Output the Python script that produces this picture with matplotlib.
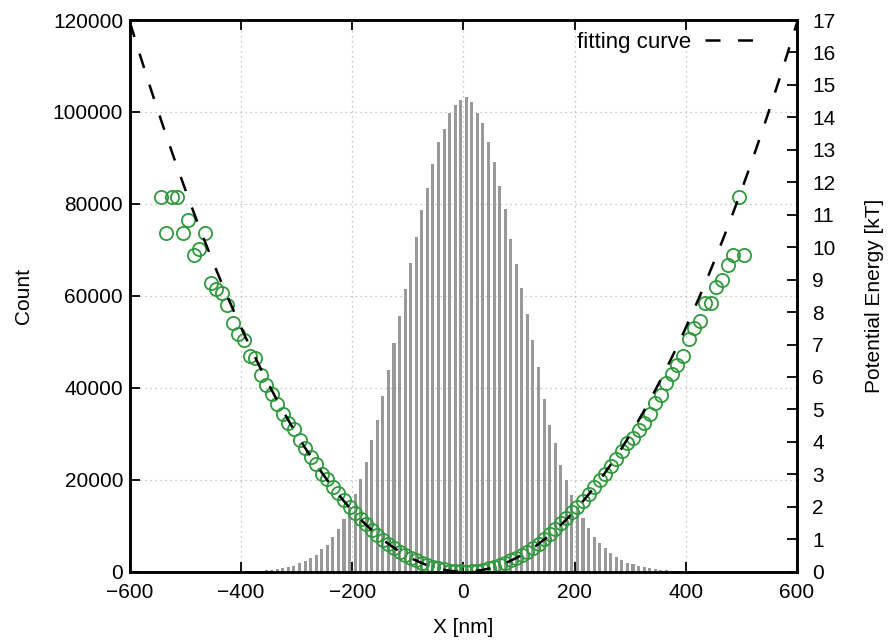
import numpy as np
import matplotlib.pyplot as plt

plt.rcParams['font.family'] = ['Liberation Sans', 'DejaVu Sans']

# histogram of positions, 10 nm bins, centres -545 ... 505 nm
bin_centers = np.arange(-545, 506, 10)
counts = [
    # -545 .. -225
    1, 3, 1, 1, 3, 2, 6, 5, 3, 14, 17, 19, 28, 49, 69, 81, 132, 141, 243, 330,
    430, 580, 790, 1055, 1290, 1800, 2260, 2990, 3690, 5030, 5840, 7560, 9230,
    # -215 .. -5
    11400, 14100, 17000, 20100, 23900, 28600, 33000, 38300, 43800, 49800, 55600,
    61400, 67100, 72700, 78600, 83500, 88700, 93400, 96200, 99700, 101600, 102500,
    # 5 .. 295
    103200, 102200, 99800, 97600, 93500, 89100, 84000, 78800, 72300, 67000,
    61800, 56000, 50300, 44600, 37600, 32000, 27900, 23300, 20000, 16600,
    14000, 11600, 9400, 7600, 6150, 5070, 4000, 3250, 2540, 1950,
    # 305 .. 505
    1693, 1305, 1048, 808, 575, 448, 312, 231, 177, 132, 80, 57, 45, 26, 26,
    16, 13, 8, 6, 1, 6,
]
fit_k = 4.7e-5  # fitted harmonic potential, kT / nm^2

counts = np.array(counts, dtype=float)
energy = np.log(counts.max() / counts)  # U = -ln(P / Pmax)

fig = plt.figure(figsize=(8.88, 6.42), dpi=100)
ax = fig.add_axes([0.1464, 0.1095, 0.7511, 0.8593])

ax.bar(bin_centers, counts, width=5.5, color='#999999', zorder=2)
ax.set_xlim(-600, 600)
ax.set_ylim(0, 120000)
ax.set_xticks(range(-600, 601, 200))
ax.set_yticks(range(0, 120001, 20000))
ax.grid(True, color='#b5b5b5', linestyle=(0, (1, 3)), linewidth=0.9)
ax.set_axisbelow(True)
ax.tick_params(direction='in', length=7, width=1.3, top=True, labelsize=15)
ax.tick_params(axis='y', pad=5)
ax.tick_params(axis='x', pad=8)
ax.set_xlabel('X [nm]', fontsize=15, labelpad=12)
ax.set_ylabel('Count', fontsize=15, labelpad=14)

ax2 = ax.twinx()
ax2.plot(bin_centers, energy, 'o', mfc='none', mec='#2f9a3c', ms=9.5, mew=1.3)
xf = np.linspace(-600, 600, 500)
ax2.plot(xf, fit_k * xf ** 2, color='black', lw=1.8, dashes=(6, 7),
         label='fitting curve')
ax2.set_ylim(0, 17)
ax2.set_yticks(range(0, 18))
ax2.tick_params(direction='in', length=7, width=1.3, labelsize=15, pad=11)
ax2.set_ylabel('Potential Energy [kT]', fontsize=15, labelpad=21)
ax2.legend(loc='upper right', frameon=False, markerfirst=False,
           handlelength=2.5, handletextpad=0.6, fontsize=16,
           borderaxespad=0.3, borderpad=0.25, bbox_to_anchor=(0.963, 1.0))

for a in (ax, ax2):
    for s in a.spines.values():
        s.set_linewidth(1.8)

fig.savefig('out.png', dpi=100)
